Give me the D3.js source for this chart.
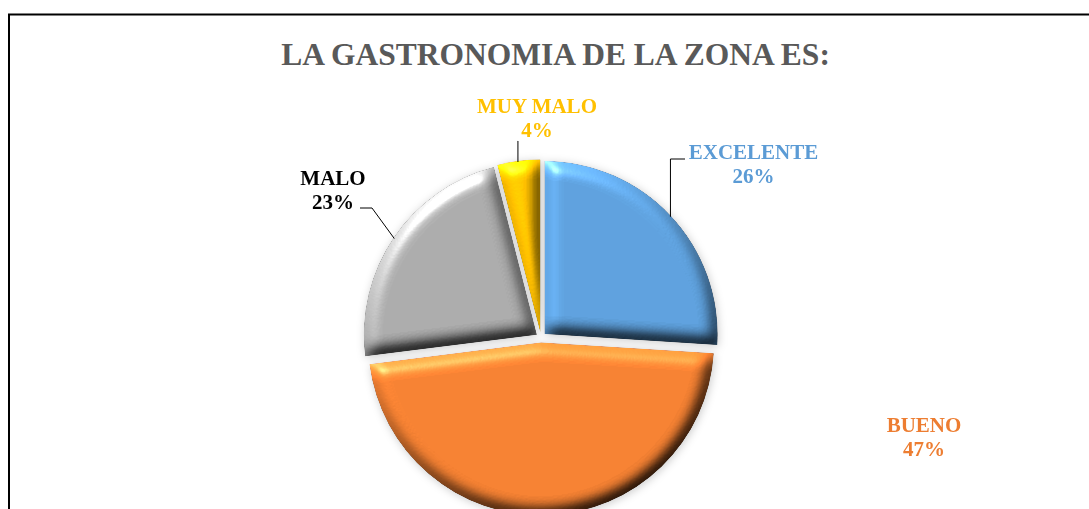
<!DOCTYPE html>
<html>
<head>
<meta charset="utf-8">
<script src="https://cdn.jsdelivr.net/npm/d3@7"></script>
<style>
  html, body { margin: 0; padding: 0; background: #fff; }
  svg { display: block; }
</style>
</head>
<body>
<div id="chart"></div>
<script>
// datos del grafico
var categories = ["EXCELENTE", "BUENO", "MALO", "MUY MALO"];
var values = [26, 47, 23, 4];
var title = "LA GASTRONOMIA DE LA ZONA ES:";

var W = 1089, H = 509;
var cx = 541, cy = 337.5, r = 173, explode = 5;

var color = d3.scaleOrdinal()
    .domain(categories)
    .range(["#5B9BD5", "#ED7D31", "#A5A5A5", "#FFC000"]);
var labelColor = d3.scaleOrdinal()
    .domain(categories)
    .range(["#5B9BD5", "#ED7D31", "#000000", "#FFC000"]);

// donde va cada etiqueta (relativo al centro) y su linea guia
var labelPos = {
  "EXCELENTE": { dx: 212.5, dy: -178.5, leader: { angle: 47, start: [685, 159], elbow: "v" } },
  "BUENO":     { dx: 383,   dy: 94.5 },
  "MALO":      { dx: -208,  dy: -152.5, leader: { angle: 304, start: [360, 208], elbow: [372, 208] } },
  "MUY MALO":  { dx: -4,    dy: -224.5, leader: { angle: 352.5, start: [518, 141], elbow: "v" } }
};

var svg = d3.select("#chart").append("svg")
    .attr("width", W).attr("height", H);

var defs = svg.append("defs");

// bisel de cada porcion
var bevel = defs.append("filter")
    .attr("id", "bevel")
    .attr("x", "-10%").attr("y", "-10%")
    .attr("width", "120%").attr("height", "120%")
    .attr("color-interpolation-filters", "sRGB");
bevel.append("feGaussianBlur")
    .attr("in", "SourceAlpha").attr("stdDeviation", 7.5).attr("result", "blur");
bevel.append("feDiffuseLighting")
    .attr("in", "blur").attr("surfaceScale", 8).attr("diffuseConstant", 1)
    .attr("lighting-color", "#fff").attr("result", "diff")
  .append("feDistantLight")
    .attr("azimuth", 240).attr("elevation", 50);
bevel.append("feComposite")
    .attr("in", "SourceGraphic").attr("in2", "diff")
    .attr("operator", "arithmetic")
    .attr("k1", 1.36).attr("k2", 0).attr("k3", 0).attr("k4", 0)
    .attr("result", "lit");
bevel.append("feSpecularLighting")
    .attr("in", "blur").attr("surfaceScale", 8)
    .attr("specularConstant", 0.3).attr("specularExponent", 40)
    .attr("lighting-color", "#fff").attr("result", "spec")
  .append("feDistantLight")
    .attr("azimuth", 240).attr("elevation", 35);
bevel.append("feComposite")
    .attr("in", "lit").attr("in2", "spec")
    .attr("operator", "arithmetic")
    .attr("k1", 0).attr("k2", 1).attr("k3", 1).attr("k4", 0)
    .attr("result", "lit2");
bevel.append("feComposite")
    .attr("in", "lit2").attr("in2", "SourceAlpha").attr("operator", "in");

var shadow = defs.append("filter")
    .attr("id", "shadow")
    .attr("x", "-20%").attr("y", "-20%")
    .attr("width", "140%").attr("height", "140%");
shadow.append("feGaussianBlur").attr("stdDeviation", 4);

svg.append("rect")
    .attr("x", 0).attr("y", 0).attr("width", W).attr("height", H)
    .attr("fill", "#fff");

// marco del grafico
svg.append("rect")
    .attr("x", 9).attr("y", 14.5)
    .attr("width", 1200).attr("height", 700)
    .attr("fill", "none")
    .attr("stroke", "#000").attr("stroke-width", 2);

svg.append("text")
    .attr("x", 555.5).attr("y", 65)
    .attr("text-anchor", "middle")
    .attr("font-family", "Liberation Serif, Times New Roman, serif")
    .attr("font-weight", 700)
    .attr("font-size", "31.5px")
    .attr("fill", "#595959")
    .text(title);

var arcs = d3.pie().sort(null).value(function(d) { return d; })(values);
var arc = d3.arc().innerRadius(0).outerRadius(r);

function offset(d) {
  var mid = (d.startAngle + d.endAngle) / 2;
  return [cx + Math.sin(mid) * explode, cy - Math.cos(mid) * explode];
}

var gShadow = svg.append("g").attr("filter", "url(#shadow)");
gShadow.selectAll("path")
    .data(arcs).enter().append("path")
    .attr("transform", function(d) { var o = offset(d); return "translate(" + (o[0] + 1) + "," + (o[1] + 1.5) + ")"; })
    .attr("d", arc)
    .attr("fill", "#000")
    .attr("fill-opacity", 0.2);

svg.append("g").selectAll("path")
    .data(arcs).enter().append("path")
    .attr("transform", function(d) { var o = offset(d); return "translate(" + o + ")"; })
    .attr("d", arc)
    .attr("fill", function(d, i) { return color(categories[i]); })
    .attr("filter", "url(#bevel)");

// lineas guia
var gLeader = svg.append("g");
arcs.forEach(function(d, i) {
  var lp = labelPos[categories[i]];
  if (!lp.leader) return;
  var o = offset(d);
  var a = lp.leader.angle * Math.PI / 180;
  var end = [o[0] + Math.sin(a) * (r - 1), o[1] - Math.cos(a) * (r - 1)];
  var pts = [lp.leader.start];
  if (lp.leader.elbow === "v") {
    pts.push([end[0], lp.leader.start[1]]);
  } else {
    pts.push(lp.leader.elbow);
  }
  pts.push(end);
  gLeader.append("path")
      .attr("d", d3.line()(pts))
      .attr("fill", "none")
      .attr("stroke", "#000").attr("stroke-width", 1);
});

// etiquetas
var total = d3.sum(values);
var gLabels = svg.append("g")
    .attr("font-family", "Liberation Serif, Times New Roman, serif")
    .attr("font-weight", 700)
    .attr("font-size", "21px")
    .attr("text-anchor", "middle");
categories.forEach(function(c, i) {
  var lp = labelPos[c];
  var t = gLabels.append("text")
      .attr("x", cx + lp.dx).attr("y", cy + lp.dy)
      .attr("fill", labelColor(c));
  t.append("tspan").attr("x", cx + lp.dx).text(c);
  t.append("tspan").attr("x", cx + lp.dx).attr("dy", 24)
      .text(Math.round(values[i] / total * 100) + "%");
});
</script>
</body>
</html>
